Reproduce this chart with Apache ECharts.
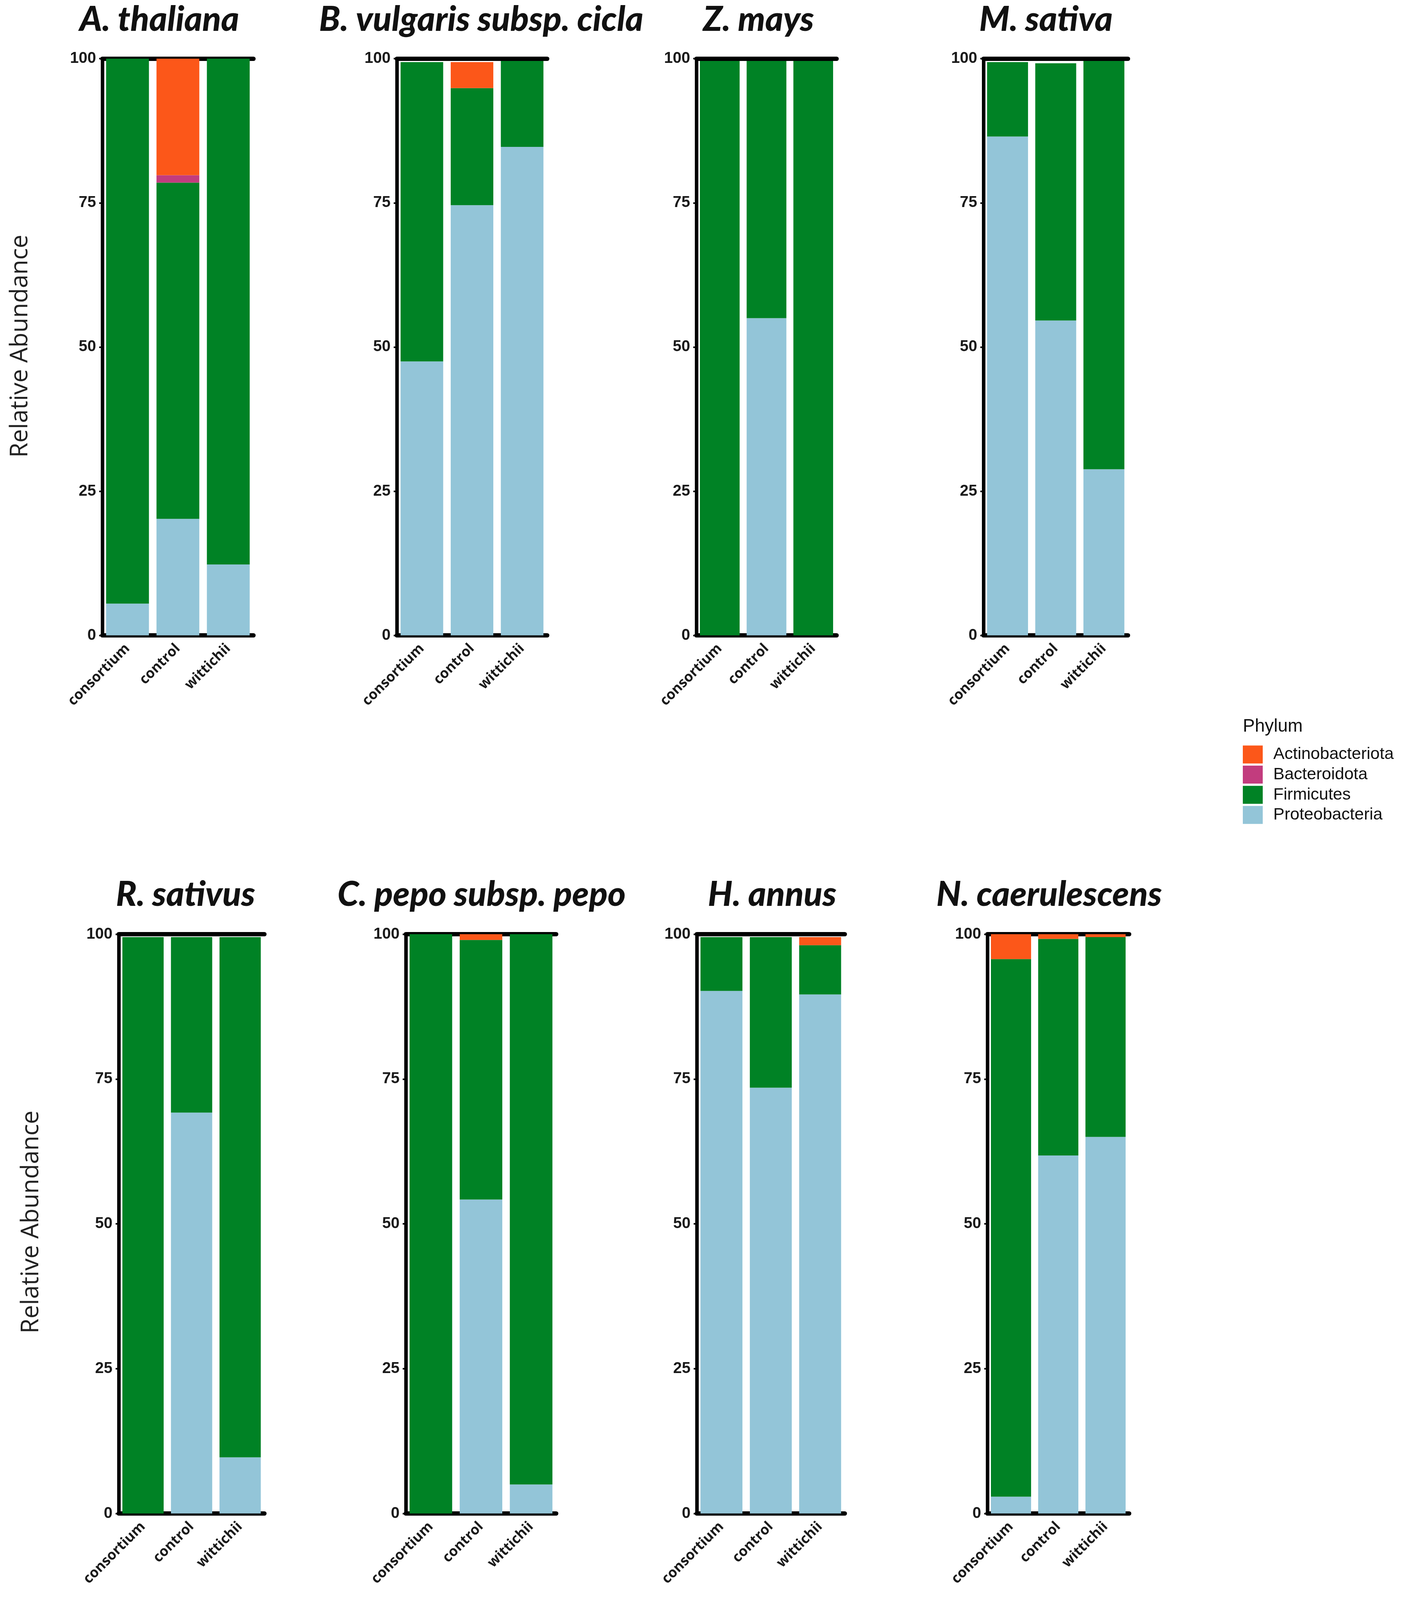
<!DOCTYPE html>
<html lang="en">
<head>
<meta charset="UTF-8">
<title>Relative Abundance by Phylum</title>
<script src="https://cdn.jsdelivr.net/npm/echarts@6/dist/echarts.min.js"></script>
<style>
    html, body { margin: 0; padding: 0; background: #fff; overflow: hidden; }
</style>
</head>
<body>
<div id="main"></div>
<script>
    // panel titles (plant hosts) and x categories
    var plants = ['A. thaliana', 'B. vulgaris subsp. cicla', 'Z. mays', 'M. sativa',
                  'R. sativus', 'C. pepo subsp. pepo', 'H. annus', 'N. caerulescens'];
    var treatments = ['consortium', 'control', 'wittichii'];
    var phyla = ['Actinobacteriota', 'Bacteroidota', 'Firmicutes', 'Proteobacteria'];

    // segment heights per panel: [consortium, control, wittichii]
    var proteobacteria = [
        [5.5, 20.2, 12.3],
        [47.5, 74.6, 84.7],
        [0, 55.0, 0],
        [86.5, 54.6, 28.8],
        [0, 69.2, 9.7],
        [0, 54.2, 5.0],
        [90.2, 73.5, 89.6],
        [2.9, 61.8, 65.0]
    ];
    var firmicutes = [
        [94.5, 58.3, 87.7],
        [51.9, 20.3, 14.9],
        [99.6, 44.6, 99.6],
        [12.9, 44.6, 70.8],
        [99.5, 30.3, 89.8],
        [100, 44.8, 95.0],
        [9.3, 26.0, 8.5],
        [92.8, 37.4, 34.5]
    ];
    var bacteroidota = [
        [0, 1.3, 0],
        [0, 0, 0],
        [0, 0, 0],
        [0, 0, 0],
        [0, 0, 0],
        [0, 0, 0],
        [0, 0, 0],
        [0, 0, 0]
    ];
    var actinobacteriota = [
        [0, 20.2, 0],
        [0, 4.5, 0],
        [0, 0, 0],
        [0, 0, 0],
        [0, 0, 0],
        [0, 1.0, 0],
        [0, 0, 1.4],
        [4.3, 0.8, 0.5]
    ];

    // layout (in a 3587 x 4364 frame): left axis x, right end of plot, title centre x
    var boxes = [
        [262, 649, 403],
        [1016, 1401, 1227],
        [1783, 2142, 1937],
        [2518, 2888, 2673],
        [304, 677, 470],
        [1039, 1424, 1228],
        [1784, 2163, 1972],
        [2528, 2891, 2681]
    ];
    var rows = [[160, 1733, 2], [2548, 4128, 2388]]; // top, bottom, title top

    // the window may be shorter than the figure: squeeze vertically to fit
    var W = window.innerWidth || 3587, H = window.innerHeight || 4364;
    var sx = W / 3587, sy = Math.min(H, 4364) / 4364;
    var el = document.getElementById('main');
    el.style.width = Math.round(3587 * sx) + 'px';
    el.style.height = Math.round(4364 * sy) + 'px';

    var colors = {
        Actinobacteriota: '#FC5719',
        Bacteroidota: '#C23C7E',
        Firmicutes: '#008225',
        Proteobacteria: '#93C5D8'
    };

    var myChart = echarts.init(el, null, {renderer: 'canvas'});

    var grids = [], xAxes = [], yAxes = [], series = [], titles = [];

    plants.forEach(function (name, i) {
        var b = boxes[i];
        var r = rows[i < 4 ? 0 : 1];
        grids.push({left: b[0] * sx, top: r[0] * sy, width: (b[1] - b[0]) * sx, height: (r[1] - r[0]) * sy});

        titles.push({
            text: name,
            left: b[2] * sx,
            top: r[2] * sy,
            textAlign: 'center',
            textStyle: {fontFamily: 'Lato', fontStyle: 'italic', fontWeight: 900, fontSize: 88, color: '#111'}
        });

        // bottom axis with labels
        xAxes.push({
            type: 'category', gridIndex: i, data: treatments, position: 'bottom',
            axisLine: {lineStyle: {color: '#000', width: 11}},
            axisTick: {alignWithLabel: true, length: 11, lineStyle: {color: '#888', width: 4}},
            axisLabel: {rotate: 45, margin: 28, fontFamily: 'Open Sans', fontWeight: 'bold', fontSize: 36, color: '#1a1a1a'}
        });
        // top line only
        xAxes.push({
            type: 'category', gridIndex: i, data: treatments, position: 'top',
            axisLine: {lineStyle: {color: '#000', width: 11}},
            axisTick: {show: false}, axisLabel: {show: false}
        });

        yAxes.push({
            type: 'value', gridIndex: i, min: 0, max: 100, interval: 25,
            axisLine: {show: true, lineStyle: {color: '#000', width: 9}},
            axisTick: {show: true, length: 8, lineStyle: {color: '#000', width: 4}},
            axisLabel: {margin: 16, fontFamily: 'Liberation Sans', fontWeight: 'bold', fontSize: 40, color: '#1a1a1a'},
            splitLine: {show: false}
        });

        var layers = [
            ['Proteobacteria', proteobacteria[i]],
            ['Firmicutes', firmicutes[i]],
            ['Bacteroidota', bacteroidota[i]],
            ['Actinobacteriota', actinobacteriota[i]]
        ];
        layers.forEach(function (l) {
            series.push({
                name: l[0], type: 'bar', stack: 'p' + i,
                xAxisIndex: i * 2, yAxisIndex: i,
                barCategoryGap: '15%',
                itemStyle: {color: colors[l[0]]},
                emphasis: {disabled: true},
                data: l[1]
            });
        });
    });

    titles.push({
        text: 'Phylum', left: 3177 * sx, top: 1952 * sy,
        textStyle: {fontFamily: 'Liberation Sans', fontWeight: 'normal', fontSize: 46, color: '#111'}
    });

    var option = {
        backgroundColor: '#fff',
        animation: false,
        title: titles,
        legend: {
            data: phyla,
            orient: 'vertical',
            left: 3177 * sx, top: 2028 * sy,
            icon: 'rect',
            itemWidth: 51, itemHeight: 49 * sy, itemGap: 6 * sy,
            textStyle: {fontFamily: 'Liberation Sans', fontSize: 43, color: '#111', padding: [0, 0, 0, 22]}
        },
        grid: grids,
        xAxis: xAxes,
        yAxis: yAxes,
        series: series,
        graphic: [
            {type: 'text', x: 52 * sx, y: 944 * sy, rotation: Math.PI / 2,
             style: {text: 'Relative Abundance', textAlign: 'center', textVerticalAlign: 'middle',
                     font: '62px "Open Sans"', fill: '#222'}},
            {type: 'text', x: 80 * sx, y: 3333 * sy, rotation: Math.PI / 2,
             style: {text: 'Relative Abundance', textAlign: 'center', textVerticalAlign: 'middle',
                     font: '62px "Open Sans"', fill: '#222'}}
        ]
    };

    myChart.setOption(option);
</script>
</body>
</html>
